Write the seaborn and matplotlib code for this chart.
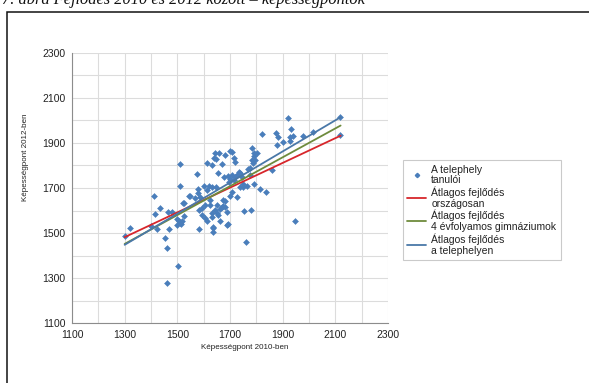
import matplotlib
matplotlib.use("Agg")
import matplotlib.pyplot as plt
from matplotlib.lines import Line2D
from matplotlib.patches import Rectangle
from matplotlib.ticker import MultipleLocator, FixedLocator
import numpy as np
import pandas as pd
import seaborn as sns

# Képességpontok: 2010 (x) és 2012 (y), a telephely tanulói
score_2010 = [
    1922, 2119, 2119, 1821, 1874, 1881, 1877, 1903, 1931, 1928, 1941, 1928, 1976, 2015, 1859, 1783,
    1790, 1803, 1790, 1784, 1796, 1787, 1775, 1767, 1733, 1739, 1727, 1708, 1714, 1720, 1700, 1714,
    1720, 1708, 1751, 1763, 1776, 1791, 1814, 1837, 1745, 1700,
    1511, 1576, 1511, 1413, 1612, 1643, 1658, 1681, 1639, 1647, 1633, 1669, 1653, 1677, 1694, 1697,
    1601, 1620, 1633, 1647, 1580, 1612, 1546, 1567, 1586, 1580,
    1521, 1434, 1415, 1320, 1303, 1399, 1422, 1453, 1459, 1501, 1462, 1469, 1466, 1479, 1498, 1508,
    1513, 1525, 1584, 1581, 1593, 1606, 1625, 1593, 1606, 1614, 1630, 1643, 1630, 1652, 1662, 1637,
    1634, 1690, 1669, 1681, 1675, 1625, 1524, 1549, 1498, 1511, 1517, 1635, 1694,
    1755, 1779, 1947, 1762,
    1656, 1662, 1650, 1675, 1681, 1687, 1700, 1706, 1725, 1738, 1751,
]
score_2012 = [
    2009, 2016, 1935, 1939, 1945, 1925, 1891, 1903, 1962, 1927, 1931, 1910, 1931, 1950, 1780, 1876,
    1854, 1854, 1843, 1824, 1824, 1810, 1787, 1783, 1772, 1768, 1758, 1861, 1832, 1817, 1742, 1735,
    1749, 1758, 1706, 1709, 1758, 1718, 1694, 1684, 1750, 1864,
    1805, 1762, 1710, 1666, 1812, 1854, 1857, 1846, 1832, 1828, 1802, 1807, 1765, 1747, 1753, 1728,
    1709, 1709, 1706, 1703, 1696, 1691, 1666, 1657, 1661, 1676,
    1635, 1613, 1583, 1521, 1485, 1533, 1518, 1477, 1435, 1355, 1277, 1518, 1592, 1592, 1563, 1554,
    1539, 1577, 1518, 1602, 1613, 1625, 1625, 1580, 1566, 1554, 1588, 1602, 1573, 1588, 1554, 1521,
    1506, 1536, 1617, 1617, 1647, 1647, 1632, 1665, 1536, 1543, 1555, 1525, 1539,
    1600, 1602, 1555, 1462,
    1580, 1605, 1625, 1620, 1644, 1595, 1664, 1684, 1661, 1706, 1718,
]

# Átlagos fejlődés: egyenesek két végpontja
trend_x = [1300, 2120]
trend_national = [1482, 1932]
trend_gymnasium = [1452, 1977]
trend_site = [1448, 2014]

tick_values = [1100, 1300, 1500, 1700, 1900, 2100, 2300]
series_labels = [
    "A telephely\ntanulói",
    "Átlagos fejlődés\nországosan",
    "Átlagos fejlődés\n4 évfolyamos gimnáziumok",
    "Átlagos fejlődés\na telephelyen",
]
x_label = "Képességpont 2010-ben"
y_label = "Képességpont 2012-ben"
title = "7. ábra Fejlődés 2010 és 2012 között – képességpontok"

c_points = "#4a7ebb"
c_national = "#d7262b"
c_gymnasium = "#6e8b3d"
c_site = "#4a78a8"

sns.set_style("white")
plt.rcParams["font.family"] = ["Liberation Sans", "DejaVu Sans"]

W, H = 589, 383
fig = plt.figure(figsize=(W / 100, H / 100), dpi=100)
ax = fig.add_axes([72 / W, 1 - 323.3 / H, 316 / W, 270.6 / H])

points = pd.DataFrame({"x": score_2010, "y": score_2012})
sns.scatterplot(data=points, x="x", y="y", ax=ax, marker="D", s=9,
                color=c_points, edgecolor=c_points, linewidth=0.4, zorder=3)

lines = pd.DataFrame({
    "x": trend_x * 3,
    "y": trend_national + trend_gymnasium + trend_site,
    "series": ["n"] * 2 + ["g"] * 2 + ["s"] * 2,
})
sns.lineplot(data=lines, x="x", y="y", hue="series",
             palette={"n": c_national, "g": c_gymnasium, "s": c_site},
             linewidth=1.3, ax=ax, legend=False, zorder=4)

ax.set_xlim(tick_values[0], tick_values[-1])
ax.set_ylim(tick_values[0], tick_values[-1])
ax.xaxis.set_major_locator(FixedLocator(tick_values))
ax.yaxis.set_major_locator(FixedLocator(tick_values))
ax.xaxis.set_minor_locator(MultipleLocator(100))
ax.yaxis.set_minor_locator(MultipleLocator(100))
ax.grid(True, which="both", color="#dcdcdc", linewidth=0.8)
ax.set_axisbelow(True)
for side in ("top", "right"):
    ax.spines[side].set_visible(False)
for side in ("left", "bottom"):
    ax.spines[side].set_color("#8c8c8c")
    ax.spines[side].set_linewidth(0.8)
ax.tick_params(which="major", direction="out", length=3, width=0.7, color="#8c8c8c",
               labelsize=7.5, pad=1.5, labelcolor="#222222")
ax.tick_params(which="minor", direction="out", length=2, width=0.6, color="#8c8c8c")

ax.set_xlabel(x_label, fontsize=5.8, color="#222222")
ax.set_ylabel(y_label, fontsize=5.8, color="#222222")
ax.xaxis.set_label_coords(0.547, -0.075)
ax.yaxis.set_label_coords(-0.136, 0.615)

handles = [
    Line2D([], [], marker="D", markersize=2.2, ls="", color=c_points),
    Line2D([], [], color=c_national, lw=1.3),
    Line2D([], [], color=c_gymnasium, lw=1.3),
    Line2D([], [], color=c_site, lw=1.3),
]
leg = fig.legend(handles, series_labels, loc="upper left",
                 bbox_to_anchor=(402.7 / W, 1 - 160 / H), borderaxespad=0,
                 fontsize=7.5, frameon=True, fancybox=False, edgecolor="#bdbdbd",
                 handlelength=1.8, handletextpad=0.5, labelspacing=0.1,
                 borderpad=0.45)
leg.get_frame().set_linewidth(0.8)
for t in leg.get_texts():
    t.set_color("#222222")
    t.set_linespacing(1.1)

# keret és a (felül levágott) ábracím
fig.patches.append(Rectangle((7 / W, -0.05), 1.1, 1 - 12 / H + 0.05,
                             transform=fig.transFigure, fill=False,
                             edgecolor="#111111", linewidth=1.1))
fig.text(0.003, 1 - 4.5 / H, title, family=["Liberation Serif", "DejaVu Serif"],
         style="italic", fontsize=11.8, va="baseline", ha="left", color="#111111")

fig.savefig("out.png", dpi=100)
